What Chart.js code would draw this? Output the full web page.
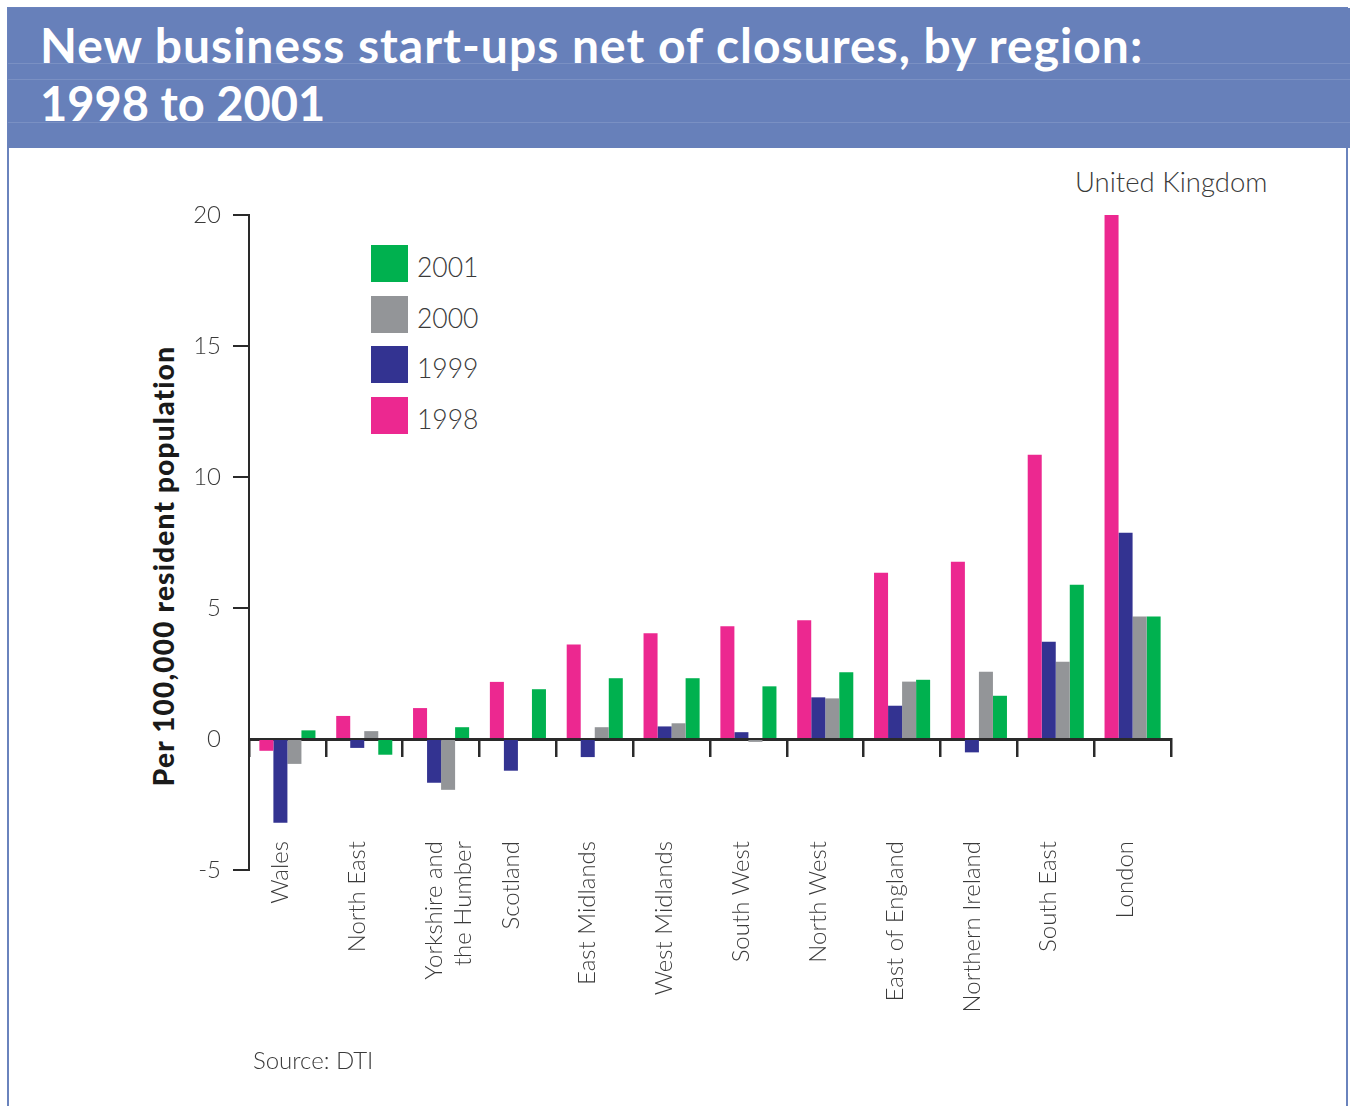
<!DOCTYPE html>
<html>
<head>
<meta charset="utf-8">
<script src="https://cdn.jsdelivr.net/npm/chart.js@4/dist/chart.umd.min.js"></script>
<style>
  html, body { margin: 0; padding: 0; background: #ffffff; }
  #wrap { position: relative; width: 1354px; height: 1106px; overflow: hidden; font-family: Lato, "DejaVu Sans", sans-serif; }
  #frame { position: absolute; left: 7px; top: 7px; width: 1341px; height: 1120px; border: 2px solid #6a83bd; box-sizing: border-box; }
  #header { position: absolute; left: 8px; top: 8px; width: 1342px; height: 140px; background: #6780ba; }
  .hline { position: absolute; left: 8px; width: 1342px; height: 1px; background: rgba(255,255,255,0.13); }
  .title { position: absolute; left: 40px; color: #ffffff; font-weight: 700; white-space: nowrap; line-height: 1.2; }
  #uk { position: absolute; left: 1075px; top: 165px; font-size: 27.5px; font-weight: 300; color: #3a3a3a; line-height: 1.2; white-space: nowrap; }
  #source { position: absolute; left: 253px; top: 1046px; font-size: 24px; font-weight: 300; color: #3a3a3a; line-height: 1.2; white-space: nowrap; }
  #ytitle { position: absolute; left: 163px; top: 566px; transform: translate(-50%, -50%) rotate(-90deg); font-size: 28px; letter-spacing: 1.2px; font-weight: 900; color: #1a1a1a; white-space: nowrap; }
  #legend { position: absolute; left: 371px; top: 245px; }
  .leg { position: absolute; left: 0; width: 200px; height: 37px; }
  .leg .sw { position: absolute; left: 0; top: 0; width: 37px; height: 37px; }
  .leg .lt { position: absolute; left: 46px; top: 7px; font-size: 26.5px; font-weight: 300; color: #3a3a3a; line-height: 1.2; white-space: nowrap; }
  #cv { position: absolute; left: 0; top: 150px; }
</style>
</head>
<body>
<div id="wrap">
  <div id="frame"></div>
  <div id="header"></div>
  <div class="hline" style="top:63px"></div>
  <div class="hline" style="top:79px"></div>
  <div class="hline" style="top:122px"></div>
  <div class="title" style="top:16px; font-size:48px; letter-spacing:1px;">New business start-ups net of closures, by region:</div>
  <div class="title" style="top:75px; font-size:47px;">1998 to 2001</div>
  <div id="uk">United Kingdom</div>
  <div id="ytitle">Per 100,000 resident population</div>
  <div id="legend"></div>
  <canvas id="cv" width="1340" height="956"></canvas>
  <div id="source">Source: DTI</div>
</div>
<script>
const regions = [
  "Wales", "North East", ["Yorkshire and", "the Humber"], "Scotland", "East Midlands",
  "West Midlands", "South West", "North West", "East of England", "Northern Ireland",
  "South East", "London"
];
const seriesNames = ["1998", "1999", "2000", "2001"];
const values1998 = [-0.45, 0.88, 1.18, 2.18, 3.61, 4.04, 4.30, 4.53, 6.35, 6.77, 10.85, 20.0];
const values1999 = [-3.20, -0.34, -1.67, -1.21, -0.69, 0.48, 0.26, 1.59, 1.27, -0.51, 3.71, 7.87];
const values2000 = [-0.95, 0.30, -1.94, 0.00, 0.45, 0.60, -0.11, 1.55, 2.19, 2.57, 2.95, 4.68];
const values2001 = [0.33, -0.60, 0.45, 1.90, 2.32, 2.32, 2.01, 2.55, 2.26, 1.65, 5.89, 4.68];
const yTicks = [-5, 0, 5, 10, 15, 20];
const colors = ["#ec2890", "#333391", "#939598", "#00b14f"];

const allValues = [values1998, values1999, values2000, values2001];
const datasets = allValues.map((vals, i) => ({
  label: seriesNames[i],
  data: vals,
  backgroundColor: colors[i],
  borderWidth: 0,
  categoryPercentage: 0.73,
  barPercentage: 1.0
}));

// HTML legend (reverse order, as in the reference)
const legend = document.getElementById('legend');
datasets.slice().reverse().forEach((ds, k) => {
  const item = document.createElement('div');
  item.className = 'leg';
  item.style.top = (k * 50.7) + 'px';
  item.innerHTML = '<div class="sw" style="background:' + ds.backgroundColor + '"></div><div class="lt">' + ds.label + '</div>';
  legend.appendChild(item);
});

const axisColor = '#2a2a2a';
const font = { family: 'Lato, "DejaVu Sans", sans-serif', size: 24, weight: 300 };

new Chart(document.getElementById('cv'), {
  type: 'bar',
  data: { labels: regions, datasets: datasets },
  options: {
    responsive: false,
    animation: false,
    events: [],
    layout: { padding: { left: 149, top: 65, right: 169, bottom: 236 } },
    plugins: { legend: { display: false }, tooltip: { enabled: false }, title: { display: false } },
    scales: {
      x: {
        position: { y: 0 },
        afterFit: (s) => { s.height = 0; },
        grid: { offset: true, drawOnChartArea: false, drawTicks: true, tickLength: 16, tickColor: axisColor, lineWidth: 2.5 },
        border: { display: true, color: axisColor, width: 3 },
        ticks: { autoSkip: false, maxRotation: 90, minRotation: 90, padding: 86, labelOffset: -7, color: '#3a3a3a', font: font }
      },
      y: {
        position: 'left',
        min: -5,
        max: 20,
        afterFit: (s) => { s.width = 100; },
        afterBuildTicks: (s) => { s.ticks = yTicks.map(v => ({ value: v })); },
        grid: {
          drawOnChartArea: false, drawTicks: true, tickLength: 16, lineWidth: 2,
          tickColor: (ctx) => (ctx.tick && ctx.tick.value === 0 ? 'rgba(0,0,0,0)' : axisColor)
        },
        border: { display: true, color: axisColor, width: 2 },
        ticks: { padding: 12, color: '#3a3a3a', font: font }
      }
    }
  }
});
</script>
</body>
</html>
